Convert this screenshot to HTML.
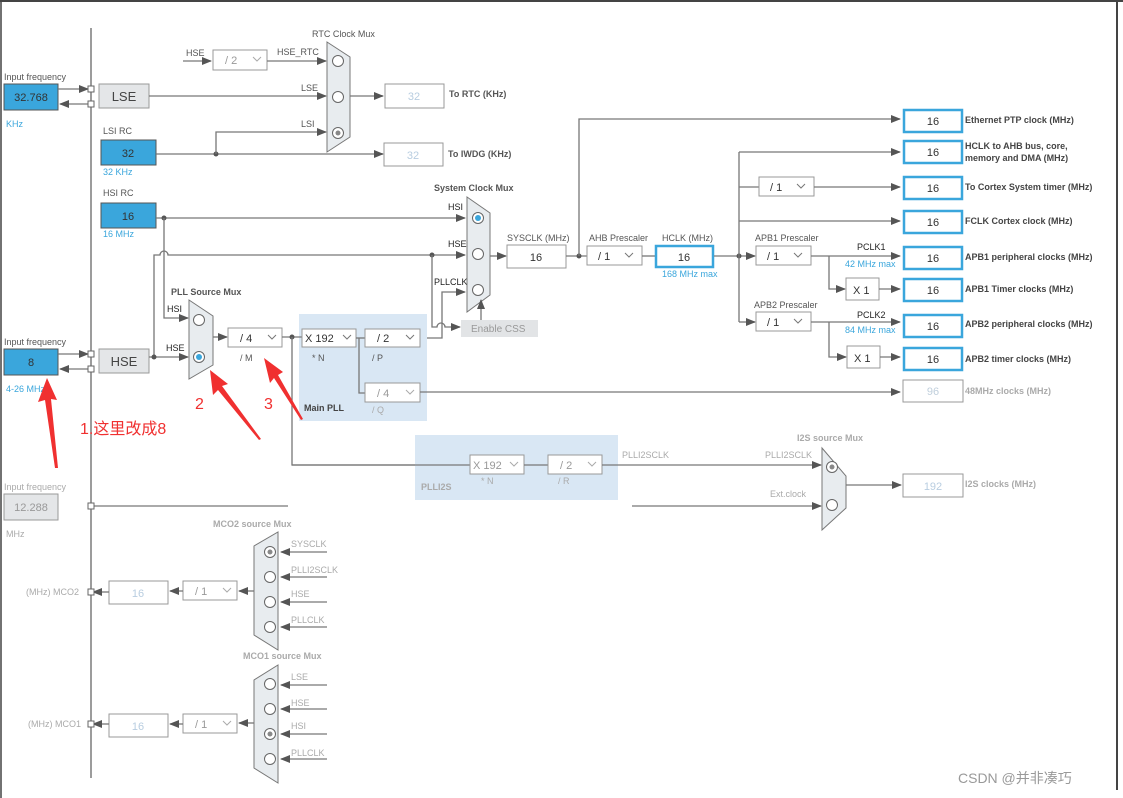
<!DOCTYPE html>
<html><head><meta charset="utf-8"><style>
html,body{margin:0;padding:0;background:#fff}
svg{display:block}
text{font-family:"Liberation Sans","Noto Sans CJK SC",sans-serif;font-size:9px;fill:#555}
.b{font-weight:bold}
.bl{fill:#3aa6dc}
.lg{fill:#aaa}
.ln{stroke:#777;stroke-width:1.3;fill:none}
.bx{fill:#fff;stroke:#999;stroke-width:1}
.bb{fill:#fff;stroke:#3aa6dc;stroke-width:2.5}
.bf{fill:#3aa6dc;stroke:#555;stroke-width:1}
.mux{fill:#e8ecef;stroke:#777;stroke-width:1}
.c{fill:#fff;stroke:#666;stroke-width:1}
.v{font-size:11px;fill:#333}
</style></head><body>
<svg width="1123" height="798" viewBox="0 0 1123 798" xmlns="http://www.w3.org/2000/svg">
<defs>
<marker id="a" markerWidth="10" markerHeight="8" refX="9" refY="4" orient="auto" markerUnits="userSpaceOnUse"><path d="M0,0 L10,4 L0,8z" fill="#555"/></marker>
</defs>
<rect x="0" y="0" width="1123" height="798" fill="#fff"/>
<line x1="0" y1="1" x2="1123" y2="1" stroke="#444" stroke-width="2"/>
<line x1="1" y1="0" x2="1" y2="798" stroke="#444" stroke-width="1.5"/>
<line x1="1117" y1="0" x2="1117" y2="790" stroke="#444" stroke-width="2"/>
<line x1="91" y1="28" x2="91" y2="778" stroke="#666" stroke-width="1.3"/>

<!-- LSE input -->
<text x="4" y="80">Input frequency</text>
<rect x="4" y="84" width="54" height="26" class="bf"/>
<text x="31" y="101" class="v" text-anchor="middle">32.768</text>
<text x="6" y="127" class="bl">KHz</text>
<line x1="58" y1="89" x2="88" y2="89" class="ln" marker-end="url(#a)"/>
<line x1="88" y1="104" x2="60" y2="104" class="ln" marker-end="url(#a)"/>
<rect x="88" y="86" width="6" height="6" fill="#fff" stroke="#666"/>
<rect x="88" y="101" width="6" height="6" fill="#fff" stroke="#666"/>
<rect x="99" y="84" width="50" height="24" fill="#e4e6e8" stroke="#999"/>
<text x="124" y="101" text-anchor="middle" style="font-size:13px;fill:#444">LSE</text>

<!-- RTC mux -->
<text x="312" y="37">RTC Clock Mux</text>
<text x="186" y="56">HSE</text>
<line x1="183" y1="61" x2="211" y2="61" class="ln" marker-end="url(#a)"/>
<rect x="213" y="50" width="54" height="20" class="bx"/><text x="225" y="64" class="v" style="fill:#999">/ 2</text><path d="M253,57 l4,4 l4,-4" stroke="#aaa" fill="none"/>
<text x="277" y="55">HSE_RTC</text>
<line x1="267" y1="61" x2="326" y2="61" class="ln" marker-end="url(#a)"/>
<text x="301" y="91">LSE</text>
<line x1="149" y1="96" x2="326" y2="96" class="ln" marker-end="url(#a)"/>
<text x="301" y="127">LSI</text>
<polygon points="327,42 350,57 350,137 327,152" class="mux"/>
<circle cx="338" cy="61" r="5.5" class="c"/><circle cx="338" cy="97" r="5.5" class="c"/><circle cx="338" cy="133" r="5.5" class="c"/><circle cx="338" cy="133" r="2.5" fill="#888"/>
<line x1="350" y1="96" x2="383" y2="96" class="ln" marker-end="url(#a)"/>
<rect x="385" y="84" width="59" height="24" class="bx"/><text x="414" y="100" text-anchor="middle" class="v" style="fill:#b8cde0">32</text>
<text x="449" y="97" class="b">To RTC (KHz)</text>

<!-- LSI -->
<text x="103" y="134">LSI RC</text>
<rect x="101" y="140" width="55" height="25" class="bf"/><text x="128" y="157" class="v" text-anchor="middle">32</text>
<text x="103" y="175" class="bl">32 KHz</text>
<line x1="156" y1="154" x2="383" y2="154" class="ln" marker-end="url(#a)"/>
<circle cx="216" cy="154" r="2.5" fill="#555"/>
<polyline points="216,154 216,132 326,132" class="ln" marker-end="url(#a)"/>
<rect x="384" y="143" width="59" height="23" class="bx"/><text x="413" y="159" text-anchor="middle" class="v" style="fill:#b8cde0">32</text>
<text x="448" y="157" class="b">To IWDG (KHz)</text>

<!-- HSI -->
<text x="103" y="196">HSI RC</text>
<rect x="101" y="203" width="55" height="25" class="bf"/><text x="128" y="220" class="v" text-anchor="middle">16</text>
<text x="103" y="237" class="bl">16 MHz</text>
<line x1="156" y1="218" x2="465" y2="218" class="ln" marker-end="url(#a)"/>
<circle cx="164" cy="218" r="2.5" fill="#555"/>
<polyline points="164,218 164,318 188,318" class="ln" marker-end="url(#a)"/>

<!-- HSE path -->
<path d="M154,357 L154,255 L160,255 A4,4 0 0 1 168,255 L465,255" class="ln" marker-end="url(#a)"/>
<circle cx="432" cy="255" r="2.5" fill="#555"/>
<path d="M432,255 L432,327 L437,327 A4,4 0 0 1 445,327 L460,327" class="ln" marker-end="url(#a)"/>
<polyline points="420,338 442,338 442,292 465,292" class="ln" marker-end="url(#a)"/>

<!-- System mux -->
<text x="434" y="191" class="b">System Clock Mux</text>
<text x="448" y="210" style="fill:#222">HSI</text>
<text x="448" y="247" style="fill:#222">HSE</text>
<text x="434" y="285" style="fill:#222">PLLCLK</text>
<polygon points="467,197 490,213 490,295 467,312" class="mux"/>
<circle cx="478" cy="218" r="5.5" class="c"/><circle cx="478" cy="218" r="3" fill="#3aa6dc"/>
<circle cx="478" cy="254" r="5.5" class="c"/><circle cx="478" cy="290" r="5.5" class="c"/>
<rect x="461" y="320" width="77" height="17" fill="#e2e4e6"/><text x="471" y="332" style="font-size:10px;fill:#999">Enable CSS</text>
<line x1="481" y1="320" x2="481" y2="300" class="ln" marker-end="url(#a)"/>
<line x1="490" y1="256" x2="506" y2="256" class="ln" marker-end="url(#a)"/>
<text x="507" y="241">SYSCLK (MHz)</text>
<rect x="507" y="245" width="59" height="23" class="bx"/><text x="536" y="261" text-anchor="middle" class="v">16</text>
<line x1="566" y1="256" x2="587" y2="256" class="ln"/>
<circle cx="579" cy="256" r="2.5" fill="#555"/>
<polyline points="579,256 579,119 900,119" class="ln" marker-end="url(#a)"/>
<text x="589" y="241">AHB Prescaler</text>
<rect x="587" y="246" width="55" height="19" class="bx"/><text x="598" y="260" class="v">/ 1</text><path d="M625,253 l4,4 l4,-4" stroke="#777" fill="none"/>
<line x1="642" y1="256" x2="655" y2="256" class="ln"/>
<text x="662" y="241">HCLK (MHz)</text>
<rect x="656" y="246" width="57" height="21" class="bb"/><text x="684" y="261" text-anchor="middle" class="v">16</text>
<text x="662" y="277" class="bl">168 MHz max</text>
<line x1="714" y1="256" x2="755" y2="256" class="ln" marker-end="url(#a)"/>
<circle cx="739" cy="256" r="2.5" fill="#555"/>
<line x1="739" y1="152" x2="739" y2="322" class="ln"/>
<line x1="739" y1="152" x2="900" y2="152" class="ln" marker-end="url(#a)"/>
<line x1="739" y1="187" x2="759" y2="187" class="ln"/>
<rect x="759" y="177" width="55" height="19" class="bx"/><text x="770" y="191" class="v">/ 1</text><path d="M797,184 l4,4 l4,-4" stroke="#777" fill="none"/>
<line x1="814" y1="187" x2="900" y2="187" class="ln" marker-end="url(#a)"/>
<line x1="739" y1="221" x2="900" y2="221" class="ln" marker-end="url(#a)"/>
<line x1="739" y1="322" x2="755" y2="322" class="ln" marker-end="url(#a)"/>
<text x="755" y="241">APB1 Prescaler</text>
<rect x="756" y="246" width="55" height="19" class="bx"/><text x="767" y="260" class="v">/ 1</text><path d="M794,253 l4,4 l4,-4" stroke="#777" fill="none"/>
<line x1="811" y1="256" x2="900" y2="256" class="ln" marker-end="url(#a)"/>
<text x="857" y="250" style="fill:#222">PCLK1</text>
<text x="845" y="267" class="bl">42 MHz max</text>
<polyline points="829,256 829,289 845,289" class="ln" marker-end="url(#a)"/>
<rect x="846" y="278" width="33" height="22" class="bx"/><text x="853" y="294" class="v">X 1</text>
<line x1="879" y1="289" x2="900" y2="289" class="ln" marker-end="url(#a)"/>
<text x="754" y="308">APB2 Prescaler</text>
<rect x="756" y="312" width="55" height="19" class="bx"/><text x="767" y="326" class="v">/ 1</text><path d="M794,319 l4,4 l4,-4" stroke="#777" fill="none"/>
<line x1="811" y1="322" x2="900" y2="322" class="ln" marker-end="url(#a)"/>
<text x="857" y="318" style="fill:#222">PCLK2</text>
<text x="845" y="333" class="bl">84 MHz max</text>
<polyline points="829,322 829,357 846,357" class="ln" marker-end="url(#a)"/>
<rect x="847" y="346" width="33" height="22" class="bx"/><text x="854" y="362" class="v">X 1</text>
<line x1="880" y1="357" x2="900" y2="357" class="ln" marker-end="url(#a)"/>

<!-- Right outputs -->
<g>
<rect x="904" y="110" width="58" height="22" class="bb"/><text x="933" y="125" text-anchor="middle" class="v">16</text>
<rect x="904" y="141" width="58" height="22" class="bb"/><text x="933" y="156" text-anchor="middle" class="v">16</text>
<rect x="904" y="177" width="58" height="22" class="bb"/><text x="933" y="192" text-anchor="middle" class="v">16</text>
<rect x="904" y="211" width="58" height="22" class="bb"/><text x="933" y="226" text-anchor="middle" class="v">16</text>
<rect x="904" y="247" width="58" height="22" class="bb"/><text x="933" y="262" text-anchor="middle" class="v">16</text>
<rect x="904" y="279" width="58" height="22" class="bb"/><text x="933" y="294" text-anchor="middle" class="v">16</text>
<rect x="904" y="315" width="58" height="22" class="bb"/><text x="933" y="330" text-anchor="middle" class="v">16</text>
<rect x="904" y="348" width="58" height="22" class="bb"/><text x="933" y="363" text-anchor="middle" class="v">16</text>
<rect x="903" y="380" width="60" height="22" class="bx"/><text x="933" y="395" text-anchor="middle" class="v" style="fill:#c0cfdc">96</text>
<text x="965" y="123" class="b" style="fill:#444">Ethernet PTP clock (MHz)</text>
<text x="965" y="149" class="b" style="fill:#444">HCLK to AHB bus, core,</text>
<svg x="960" y="150" width="200" height="13"><text x="5" y="11" class="b" style="fill:#444">memory and DMA (MHz)</text></svg>
<text x="965" y="190" class="b" style="fill:#444">To Cortex System timer (MHz)</text>
<text x="965" y="224" class="b" style="fill:#444">FCLK Cortex clock (MHz)</text>
<text x="965" y="260" class="b" style="fill:#444">APB1 peripheral clocks (MHz)</text>
<text x="965" y="292" class="b" style="fill:#444">APB1 Timer clocks (MHz)</text>
<text x="965" y="327" class="b" style="fill:#444">APB2 peripheral clocks (MHz)</text>
<text x="965" y="362" class="b" style="fill:#444">APB2 timer clocks (MHz)</text>
<text x="965" y="394" class="b lg">48MHz clocks (MHz)</text>
</g>

<!-- HSE input -->
<text x="4" y="345">Input frequency</text>
<rect x="4" y="349" width="54" height="26" class="bf"/><text x="31" y="366" class="v" text-anchor="middle">8</text>
<text x="6" y="392" class="bl">4-26 MHz</text>
<line x1="58" y1="354" x2="88" y2="354" class="ln" marker-end="url(#a)"/>
<line x1="88" y1="369" x2="60" y2="369" class="ln" marker-end="url(#a)"/>
<rect x="88" y="351" width="6" height="6" fill="#fff" stroke="#666"/>
<rect x="88" y="366" width="6" height="6" fill="#fff" stroke="#666"/>
<rect x="99" y="349" width="50" height="24" fill="#e4e6e8" stroke="#999"/>
<text x="124" y="366" text-anchor="middle" style="font-size:13px;fill:#444">HSE</text>
<line x1="149" y1="357" x2="188" y2="357" class="ln" marker-end="url(#a)"/>
<circle cx="154" cy="357" r="2.5" fill="#555"/>

<!-- PLL source mux -->
<text x="171" y="295" class="b">PLL Source Mux</text>
<text x="167" y="312" style="fill:#222">HSI</text>
<text x="166" y="351" style="fill:#222">HSE</text>
<polygon points="189,300 213,316 213,365 189,379" class="mux"/>
<circle cx="199" cy="320" r="5.5" class="c"/>
<circle cx="199" cy="357" r="5.5" class="c"/><circle cx="199" cy="357" r="3" fill="#3aa6dc"/>
<line x1="213" y1="337" x2="227" y2="337" class="ln" marker-end="url(#a)"/>
<rect x="228" y="328" width="54" height="19" class="bx"/><text x="240" y="342" class="v">/ 4</text><path d="M268,335 l4,4 l4,-4" stroke="#777" fill="none"/>
<text x="240" y="361">/ M</text>

<!-- Main PLL -->
<rect x="299" y="314" width="128" height="107" fill="#d9e7f4"/>
<line x1="282" y1="337" x2="302" y2="337" class="ln"/>
<circle cx="292" cy="337" r="2.5" fill="#555"/>
<polyline points="292,337 292,465 470,465" class="ln"/>
<rect x="302" y="329" width="54" height="18" class="bx"/><text x="305" y="342" class="v">X 192</text><path d="M343,335 l4,4 l4,-4" stroke="#777" fill="none"/>
<text x="312" y="361">* N</text>
<line x1="356" y1="338" x2="365" y2="338" class="ln"/>
<rect x="365" y="329" width="55" height="18" class="bx"/><text x="377" y="342" class="v">/ 2</text><path d="M406,335 l4,4 l4,-4" stroke="#777" fill="none"/>
<text x="372" y="361">/ P</text>
<polyline points="359,338 359,393 365,393" class="ln"/>
<rect x="365" y="383" width="55" height="19" class="bx"/><text x="377" y="397" class="v" style="fill:#999">/ 4</text><path d="M406,390 l4,4 l4,-4" stroke="#aaa" fill="none"/>
<text x="372" y="413" class="lg">/ Q</text>
<text x="304" y="411" class="b" style="fill:#444">Main PLL</text>
<line x1="420" y1="392" x2="900" y2="392" class="ln" marker-end="url(#a)"/>

<!-- PLLI2S -->
<rect x="415" y="435" width="203" height="65" fill="#d9e7f4"/>
<line x1="292" y1="465" x2="470" y2="465" class="ln"/>
<rect x="470" y="455" width="54" height="19" class="bx"/><text x="473" y="469" class="v" style="fill:#999">X 192</text><path d="M510,462 l4,4 l4,-4" stroke="#aaa" fill="none"/>
<line x1="524" y1="465" x2="548" y2="465" class="ln"/>
<rect x="548" y="455" width="54" height="19" class="bx"/><text x="560" y="469" class="v" style="fill:#999">/ 2</text><path d="M588,462 l4,4 l4,-4" stroke="#aaa" fill="none"/>
<text x="481" y="484" class="lg">* N</text>
<text x="558" y="484" class="lg">/ R</text>
<text x="421" y="490" class="lg b">PLLI2S</text>
<text x="622" y="458" class="lg">PLLI2SCLK</text>
<text x="765" y="458" class="lg">PLLI2SCLK</text>
<line x1="602" y1="465" x2="821" y2="465" class="ln" marker-end="url(#a)"/>
<text x="797" y="441" class="lg b">I2S source Mux</text>
<text x="770" y="497" class="lg">Ext.clock</text>
<line x1="632" y1="506" x2="821" y2="506" class="ln" marker-end="url(#a)"/>
<polygon points="822,448 846,476 846,508 822,530" class="mux"/>
<circle cx="832" cy="467" r="5.5" class="c"/><circle cx="832" cy="467" r="2.5" fill="#888"/>
<circle cx="832" cy="505" r="5.5" class="c"/>
<line x1="846" y1="485" x2="901" y2="485" class="ln" marker-end="url(#a)"/>
<rect x="903" y="474" width="60" height="23" class="bx"/><text x="933" y="490" text-anchor="middle" class="v" style="fill:#b8cde0">192</text>
<text x="965" y="487" class="lg b">I2S clocks (MHz)</text>

<!-- 12.288 -->
<text x="4" y="490" class="lg">Input frequency</text>
<rect x="4" y="494" width="54" height="26" fill="#e4e6e8" stroke="#999"/><text x="31" y="511" class="v" text-anchor="middle" style="fill:#999">12.288</text>
<text x="6" y="537" class="lg">MHz</text>
<line x1="91" y1="506" x2="288" y2="506" class="ln"/>
<rect x="88" y="503" width="6" height="6" fill="#fff" stroke="#666"/>

<!-- MCO2 -->
<text x="213" y="527" class="lg b">MCO2 source Mux</text>
<polygon points="278,532 278,650 254,635 254,546" class="mux"/>
<circle cx="270" cy="552" r="5.5" class="c"/><circle cx="270" cy="552" r="2.5" fill="#888"/>
<circle cx="270" cy="577" r="5.5" class="c"/><circle cx="270" cy="602" r="5.5" class="c"/><circle cx="270" cy="627" r="5.5" class="c"/>
<text x="291" y="547" class="lg">SYSCLK</text><text x="291" y="573" class="lg">PLLI2SCLK</text><text x="291" y="597" class="lg">HSE</text><text x="291" y="623" class="lg">PLLCLK</text>
<line x1="327" y1="552" x2="281" y2="552" class="ln" marker-end="url(#a)"/>
<line x1="327" y1="577" x2="281" y2="577" class="ln" marker-end="url(#a)"/>
<line x1="327" y1="602" x2="281" y2="602" class="ln" marker-end="url(#a)"/>
<line x1="327" y1="627" x2="281" y2="627" class="ln" marker-end="url(#a)"/>
<line x1="254" y1="591" x2="239" y2="591" class="ln" marker-end="url(#a)"/>
<rect x="183" y="581" width="54" height="19" class="bx"/><text x="195" y="595" class="v" style="fill:#999">/ 1</text><path d="M223,588 l4,4 l4,-4" stroke="#aaa" fill="none"/>
<line x1="183" y1="591" x2="170" y2="591" class="ln" marker-end="url(#a)"/>
<rect x="109" y="581" width="59" height="23" class="bx"/><text x="138" y="597" text-anchor="middle" class="v" style="fill:#b8cde0">16</text>
<line x1="109" y1="592" x2="93" y2="592" class="ln" marker-end="url(#a)"/>
<rect x="88" y="589" width="6" height="6" fill="#fff" stroke="#666"/>
<text x="26" y="595" class="lg">(MHz) MCO2</text>

<!-- MCO1 -->
<text x="243" y="659" class="lg b">MCO1 source Mux</text>
<polygon points="278,665 278,783 254,768 254,680" class="mux"/>
<circle cx="270" cy="684" r="5.5" class="c"/><circle cx="270" cy="709" r="5.5" class="c"/>
<circle cx="270" cy="734" r="5.5" class="c"/><circle cx="270" cy="734" r="2.5" fill="#888"/>
<circle cx="270" cy="759" r="5.5" class="c"/>
<text x="291" y="680" class="lg">LSE</text><text x="291" y="706" class="lg">HSE</text><text x="291" y="729" class="lg">HSI</text><text x="291" y="756" class="lg">PLLCLK</text>
<line x1="327" y1="685" x2="281" y2="685" class="ln" marker-end="url(#a)"/>
<line x1="327" y1="709" x2="281" y2="709" class="ln" marker-end="url(#a)"/>
<line x1="327" y1="734" x2="281" y2="734" class="ln" marker-end="url(#a)"/>
<line x1="327" y1="759" x2="281" y2="759" class="ln" marker-end="url(#a)"/>
<line x1="254" y1="723" x2="239" y2="723" class="ln" marker-end="url(#a)"/>
<rect x="183" y="714" width="54" height="19" class="bx"/><text x="195" y="728" class="v" style="fill:#999">/ 1</text><path d="M223,721 l4,4 l4,-4" stroke="#aaa" fill="none"/>
<line x1="183" y1="724" x2="170" y2="724" class="ln" marker-end="url(#a)"/>
<rect x="109" y="714" width="59" height="23" class="bx"/><text x="138" y="730" text-anchor="middle" class="v" style="fill:#b8cde0">16</text>
<line x1="109" y1="724" x2="93" y2="724" class="ln" marker-end="url(#a)"/>
<rect x="88" y="721" width="6" height="6" fill="#fff" stroke="#666"/>
<text x="28" y="727" class="lg">(MHz) MCO1</text>

<!-- Red annotations -->
<polygon points="47,378 38,402 45,400 55,468 58,468 51,399 57,400" fill="#f03030"/>
<text x="80" y="434" style="font-size:16px;fill:#f03030">1.这里改成8</text>
<polygon points="210,370 213,395 218,390 259,440 261,439 222,386 228,384" fill="#f03030"/>
<text x="195" y="409" style="font-size:16px;fill:#f03030">2</text>
<polygon points="264,358 270,383 274,378 301,420 303,419 278,375 283,372" fill="#f03030"/>
<text x="264" y="409" style="font-size:16px;fill:#f03030">3</text>

<text x="958" y="783" style="font-size:14px;fill:#999">CSDN @并非凑巧</text>
</svg>
</body></html>
